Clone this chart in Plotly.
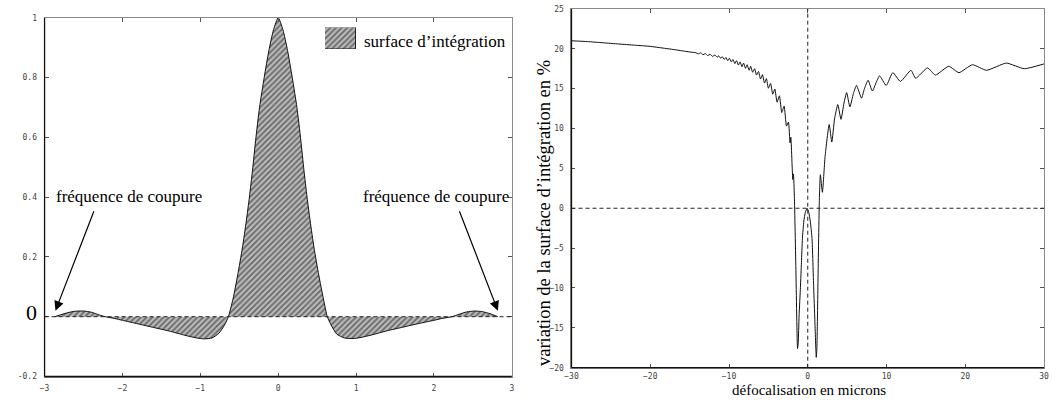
import plotly.graph_objects as go

# ---------------- data: left panel (transfer function) ----------------
freq = [-2.87, -2.75, -2.62, -2.5, -2.4, -2.3, -2.22, -2.1, -2.0, -1.8, -1.6, -1.4, -1.2,
        -1.05, -0.95, -0.85, -0.76, -0.69, -0.64, -0.58, -0.52, -0.46, -0.41, -0.37, -0.33,
        -0.29, -0.24, -0.18, -0.12, -0.06, 0.0,
        0.06, 0.12, 0.18, 0.24, 0.29, 0.33, 0.37, 0.41, 0.46, 0.52, 0.58, 0.63, 0.68, 0.75,
        0.85, 0.96, 1.05, 1.2, 1.4, 1.6, 1.8, 2.0, 2.1, 2.23, 2.32, 2.42, 2.52, 2.62, 2.72, 2.82]
tf = [0.0, 0.010, 0.018, 0.019, 0.015, 0.006, 0.0, -0.006, -0.012, -0.024, -0.036, -0.048, -0.062,
      -0.071, -0.074, -0.071, -0.055, -0.028, 0.0, 0.06, 0.14, 0.23, 0.32, 0.40, 0.49,
      0.59, 0.70, 0.80, 0.89, 0.96, 1.0,
      0.96, 0.89, 0.80, 0.70, 0.59, 0.49, 0.40, 0.32, 0.23, 0.14, 0.06, 0.0, -0.028, -0.058,
      -0.071, -0.073, -0.070, -0.061, -0.047, -0.035, -0.023, -0.012, -0.006, 0.0, 0.008, 0.016, 0.019, 0.017, 0.010, 0.0]

# ---------------- data: right panel (variation vs defocus) ----------------
defocus = [-30, -28, -26, -24, -22, -20, -18.5, -17, -16, -15, -14.2,
           -13.9, -13.6, -13.3, -13.0, -12.7, -12.4, -12.1, -11.8, -11.5,
           -11.3, -11.05, -10.85, -10.6, -10.4, -10.15, -9.95, -9.7, -9.5, -9.25,
           -9.05, -8.8, -8.6, -8.35, -8.15, -7.9, -7.7, -7.45, -7.25, -7.0,
           -6.75, -6.5, -6.25, -6.0, -5.75, -5.5, -5.25, -5.0, -4.72, -4.45,
           -4.18, -3.9, -3.6, -3.3, -3.0, -2.7, -2.45, -2.25, -2.15, -1.9,
           -1.82, -1.7, -1.5, -1.3, -1.22, -1.1, -0.93, -0.8, -0.68, -0.5, -0.3, -0.09,
           0.12, 0.33, 0.54, 0.75, 0.9, 1.08, 1.16, 1.3, 1.47, 1.6, 1.86, 2.2,
           2.72, 3.05, 3.4, 3.81, 4.22, 4.6, 4.94, 5.35, 5.8, 6.19, 6.82, 7.2,
           7.66, 8.2, 8.7, 9.12, 9.96, 10.8, 11.76, 13.1, 13.7, 15.2, 16.2, 17.9,
           19.2, 20.9, 22.7, 25.2, 27.5, 30.0]
variation = [21.0, 20.9, 20.75, 20.6, 20.45, 20.3, 20.1, 19.9, 19.75, 19.6, 19.5,
             19.35, 19.5, 19.25, 19.4, 19.15, 19.3, 19.05, 19.2, 18.95,
             19.1, 18.8, 19.0, 18.65, 18.9, 18.5, 18.8, 18.35, 18.65, 18.15,
             18.5, 17.95, 18.35, 17.75, 18.2, 17.55, 18.0, 17.3, 17.8, 17.05,
             17.5, 16.7, 17.15, 16.2, 16.75, 15.7, 16.25, 15.05, 15.65, 14.3,
             14.95, 13.3, 14.1, 12.0, 12.8, 10.3, 10.8, 8.2, 8.9, 3.6,
             4.3, 1.5, -8.0, -17.6, -17.0, -13.5, -9.9, -6.8, -3.8, -1.6, -0.5, 0.0,
             -0.5, -1.7, -3.8, -9.9, -14.0, -18.7, -17.5, -9.0, 1.0, 4.2, 2.0, 6.5,
             10.5, 8.3, 11.2, 13.0, 11.15, 13.2, 14.5, 12.7, 14.4, 15.4, 13.8, 15.0,
             16.05, 14.7, 15.8, 16.6, 15.4, 17.0, 15.9, 17.3, 16.3, 17.6, 16.7, 17.8,
             17.0, 18.0, 17.3, 18.2, 17.5, 18.1]

legend_swatch = [1]

left_xticks = [-3, -2, -1, 0, 1, 2, 3]
left_yticks = [-0.2, 0, 0.2, 0.4, 0.6, 0.8, 1]
left_yticktext = ["-0.2",
                  "<span style='font-family:Liberation Serif;font-size:22px;color:#000'>0</span>",
                  "0.2", "0.4", "0.6", "0.8", "1"]
right_xticks = [-30, -20, -10, 0, 10, 20, 30]
right_yticks = [-20, -15, -10, -5, 0, 5, 10, 15, 20, 25]

W, H = 1052, 404
SERIF = "Liberation Serif"
MONO = "DejaVu Sans Mono"

HATCH = dict(shape="/", fgcolor="#111", bgcolor="#b8b8b8", size=4, solidity=0.4)

fig = go.Figure()

fig.add_trace(go.Scatter(
    x=freq, y=tf, mode="lines", line=dict(color="#111", width=1, shape="spline", smoothing=0.6),
    fill="tozeroy", fillcolor="#b8b8b8", fillpattern=HATCH,
    xaxis="x", yaxis="y", showlegend=False, hoverinfo="skip"))

fig.add_trace(go.Scatter(
    x=defocus, y=variation, mode="lines", line=dict(color="#111", width=1, shape="spline", smoothing=0.5),
    xaxis="x2", yaxis="y2", showlegend=False, hoverinfo="skip"))

fig.add_trace(go.Bar(
    x=[0], y=legend_swatch, width=1, xaxis="x3", yaxis="y3", showlegend=False,
    marker=dict(color="#b8b8b8", line=dict(color="#222", width=1), pattern=HATCH),
    hoverinfo="skip"))

def px_x(p):
    return p / W

def px_y(p):
    return 1 - p / H

tickfont = dict(family=MONO, size=8, color="#444")
common = dict(showgrid=False, zeroline=False, showline=True, linecolor="#8a8a8a", linewidth=1,
              mirror="allticks", ticks="inside", ticklen=4, tickcolor="#555", tickfont=tickfont)

fig.update_layout(
    width=W, height=H, margin=dict(l=0, r=0, t=0, b=0),
    paper_bgcolor="white", plot_bgcolor="white",
    xaxis=dict(domain=[px_x(38), px_x(510.7)], range=[-3, 3], tickvals=left_xticks,
               anchor="y", ticklabelstandoff=4, **common),
    yaxis=dict(domain=[px_y(381), px_y(14)], range=[-0.2, 1], tickvals=left_yticks,
               ticktext=left_yticktext, anchor="x", ticklabelstandoff=5, **common),
    xaxis2=dict(domain=[px_x(571), px_x(1049)], range=[-30, 30], tickvals=right_xticks,
                anchor="y2", ticklabelstandoff=1, **common),
    yaxis2=dict(domain=[px_y(372), px_y(5)], range=[-20, 25], tickvals=right_yticks,
                anchor="x2", ticklabelstandoff=5, **common),
    xaxis3=dict(domain=[px_x(321.7), px_x(353.3)], range=[-0.5, 0.5], visible=False, anchor="y3",
                fixedrange=True),
    yaxis3=dict(domain=[px_y(46), px_y(24)], range=[0, 1], visible=False, anchor="x3",
                fixedrange=True),
    bargap=0,
)

shapes = []
for xr, yr in (("x", "y"), ("x2", "y2")):
    shapes.append(dict(type="line", xref=xr + " domain", yref=yr + " domain", x0=0, x1=0, y0=0, y1=1,
                       line=dict(color="#111", width=1.3)))
    shapes.append(dict(type="line", xref=xr + " domain", yref=yr + " domain", x0=0, x1=1, y0=0, y1=0,
                       line=dict(color="#111", width=1.3)))
shapes.append(dict(type="line", xref="x domain", yref="y", x0=0, x1=1, y0=0, y1=0,
                   line=dict(color="#222", width=1, dash="4px,3px")))
shapes.append(dict(type="line", xref="x2 domain", yref="y2", x0=0, x1=1, y0=0, y1=0,
                   line=dict(color="#222", width=1, dash="4px,3px")))
shapes.append(dict(type="line", xref="x2", yref="y2 domain", x0=0, x1=0, y0=0, y1=1,
                   line=dict(color="#222", width=1, dash="4px,3px")))
fig.update_layout(shapes=shapes)

serif17 = dict(family=SERIF, size=17, color="#000")
annotations = [
    dict(text="surface d\u2019intégration", xref="paper", yref="paper", x=px_x(359), y=px_y(38),
         xanchor="left", yanchor="middle", showarrow=False, font=serif17),
    dict(text="fréquence de coupure", xref="paper", yref="paper", x=px_x(123), y=px_y(197),
         xanchor="center", yanchor="middle", showarrow=False, font=serif17),
    dict(text="fréquence de coupure", xref="paper", yref="paper", x=px_x(434), y=px_y(197),
         xanchor="center", yanchor="middle", showarrow=False, font=serif17),
    dict(text="", xref="x", yref="y", x=-2.86, y=0.02, ax=39, ay=-101, showarrow=True,
         arrowhead=2, arrowsize=1.6, arrowwidth=1.2, arrowcolor="#000", standoff=0),
    dict(text="", xref="x", yref="y", x=2.82, y=0.02, ax=-39, ay=-101, showarrow=True,
         arrowhead=2, arrowsize=1.6, arrowwidth=1.2, arrowcolor="#000", standoff=0),
    dict(text="défocalisation en microns", xref="paper", yref="paper", x=px_x(811), y=0,
         xanchor="center", yanchor="bottom", showarrow=False, borderpad=0,
         font=dict(family=SERIF, size=15, color="#000")),
    dict(text="variation de la surface d\u2019intégration en %", xref="paper", yref="paper",
         x=px_x(543), y=px_y(214), xanchor="center", yanchor="middle", textangle=-90,
         showarrow=False, borderpad=0, font=dict(family=SERIF, size=18.5, color="#000")),
]
fig.update_layout(annotations=annotations)

fig.write_html(
    "out.html",
    config={"displayModeBar": False},
    post_script="document.body.style.margin='0';document.body.style.padding='0';"
                "document.body.style.overflow='hidden';"
                "document.documentElement.style.overflow='hidden';",
)
